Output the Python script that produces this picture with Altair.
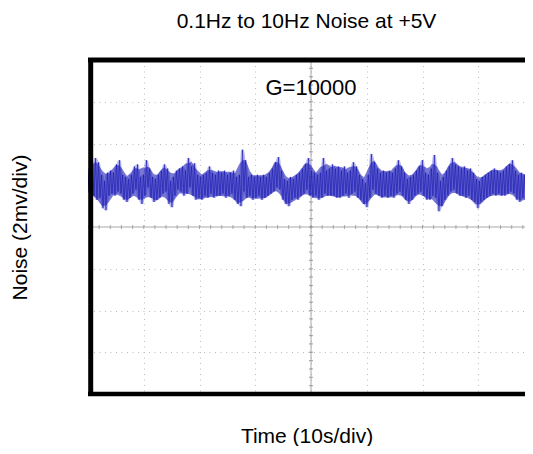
import altair as alt
import pandas as pd
import numpy as np

FONT = "Liberation Sans"

# Noise trace in mV, one sample every ~0.269 s
noise_mv = [
    2.0, 2.6, 1.6, 2.9, 1.5, 3.3, 1.3, 3.1, 1.4, 2.5, 0.9, 2.2, 0.8, 2.6, 1.5, 2.7, 1.6, 2.6, 1.5, 3.0, 1.7,
    3.2, 1.6, 2.5, 1.3, 2.4, 1.2, 2.3, 1.4, 2.5, 1.6, 2.9, 1.8, 3.0, 1.3, 2.4, 1.1, 2.5, 1.5, 3.2, 1.9,
    2.8, 1.4, 2.4, 1.2, 2.3, 1.3, 2.5, 1.4, 2.7, 1.6, 3.0, 1.7, 2.8, 1.1, 2.2, 0.95, 2.4, 1.5, 2.7, 1.8,
    2.8, 1.7, 2.9, 1.5, 2.7, 1.6, 3.3, 1.9, 2.9, 1.5, 3.05, 1.3, 2.5, 1.4, 2.4, 1.3, 2.5, 1.5, 2.6, 1.4,
    2.9, 1.6, 2.6, 1.4, 2.5, 1.5, 2.7, 1.5, 2.6, 1.6, 2.7, 1.4, 2.5, 1.5, 2.6, 1.6, 2.7, 1.3, 2.4, 1.1,
    2.5, 1.0, 3.7, 1.7, 3.2, 1.4, 2.4, 1.5, 2.5, 1.3, 2.4, 1.4, 2.5, 1.5, 2.4, 1.3, 2.5, 1.4, 2.4, 1.5,
    2.6, 1.6, 2.8, 1.7, 3.1, 1.9, 3.35, 1.8, 2.7, 1.3, 2.3, 1.1, 2.2, 1.0, 2.4, 1.3, 2.3, 1.4, 2.5, 1.3,
    2.6, 1.5, 2.8, 1.6, 3.0, 1.8, 3.3, 1.5, 2.7, 1.4, 2.6, 1.5, 2.5, 1.3, 2.6, 1.4, 3.3, 1.6, 2.7, 1.5,
    2.8, 1.5, 3.0, 1.5, 2.8, 1.4, 2.9, 1.4, 2.7, 1.5, 2.9, 1.6, 2.6, 1.4, 2.7, 1.6, 3.1, 1.7, 2.9, 1.4,
    2.5, 1.3, 2.3, 1.1, 2.1, 0.95, 2.5, 1.4, 3.5, 1.8, 3.1, 1.6, 2.8, 1.5, 2.6, 1.4, 2.7, 1.5, 2.6, 1.4,
    2.7, 1.5, 2.6, 1.4, 2.8, 1.6, 3.2, 1.7, 2.9, 1.5, 2.6, 1.3, 2.3, 1.1, 2.4, 1.3, 2.5, 1.5, 2.7, 1.6,
    2.9, 1.7, 3.2, 1.5, 2.6, 1.3, 2.5, 1.3, 2.8, 1.5, 3.45, 1.4, 2.6, 0.75, 2.2, 1.0, 2.4, 1.3, 2.7, 1.5,
    2.9, 1.7, 3.3, 1.8, 3.0, 1.6, 2.9, 1.5, 2.8, 1.5, 2.9, 1.4, 2.7, 1.5, 2.8, 1.3, 2.6, 1.2, 2.3, 0.9,
    2.2, 1.2, 2.4, 1.3, 2.5, 1.4, 2.6, 1.5, 2.7, 1.6, 2.8, 1.5, 2.7, 1.6, 2.6, 1.5, 2.7, 1.5, 2.9, 1.6,
    3.0, 1.7, 3.2, 1.6, 2.7, 1.3, 2.5, 1.2, 2.6, 1.4, 2.5, 1.3, 2.4, 1.4, 2.5, 1.5, 2.3,
]
SAMPLE_STEP_S = 0.269

# Scope graticule: 10 s/div, 2 mV/div
x_div_lines = [10, 20, 30, 40, 50, 60, 70]
y_div_lines = [-6, -4, -2, 2, 4, 6]
x_minor = [round(v, 2) for v in np.arange(0, 80.01, 2.0)]
y_minor = [round(v, 2) for v in np.arange(-8, 8.01, 0.4)]

title_text = "0.1Hz to 10Hz Noise at +5V"
x_title = "Time (10s/div)"
y_title = "Noise (2mv/div)"
gain_label = "G=10000"

W, H = 437, 334
X_MAX = W / 5.575  # 10 s per 55.75 px division

noise_df = pd.DataFrame({
    "t": [i * SAMPLE_STEP_S for i in range(len(noise_mv))],
    "mv": noise_mv,
})

xs = alt.Scale(domain=[0, X_MAX], nice=False, zero=False)
ys = alt.Scale(domain=[-8, 8], nice=False, zero=False)

grid_style = dict(grid=True, gridDash=[1, 4.5], gridColor="#bdbdbd", gridWidth=1,
                  labels=False, ticks=False, domain=False,
                  titleFont=FONT, titleFontSize=21, titleFontWeight="normal",
                  titleColor="#000000")

base = alt.Chart(noise_df)

windowed = base.transform_window(
    window=[alt.WindowFieldDef(op="min", field="mv", **{"as": "lo"}),
            alt.WindowFieldDef(op="max", field="mv", **{"as": "hi"})],
    frame=[-1, 1], sort=[alt.SortField("t")]
).transform_window(
    window=[alt.WindowFieldDef(op="mean", field="lo", **{"as": "clo"}),
            alt.WindowFieldDef(op="mean", field="hi", **{"as": "chi"})],
    frame=[-3, 3], sort=[alt.SortField("t")]
)

fringe = windowed.mark_area(clip=True, color="#4a4ae0", opacity=0.4).encode(
    x=alt.X("t:Q", scale=xs), y=alt.Y("lo:Q", scale=ys), y2="hi:Q")
core = windowed.mark_area(clip=True, color="#1e1eb4", opacity=0.6).encode(
    x=alt.X("t:Q", scale=xs), y=alt.Y("clo:Q", scale=ys), y2="chi:Q")

noise = base.mark_line(clip=True, color="#1a1ab0", strokeWidth=0.8, opacity=0.75).encode(
    x=alt.X("t:Q", scale=xs,
            axis=alt.Axis(values=x_div_lines, title=x_title, titlePadding=48,
                          titleBaseline="alphabetic", **grid_style)),
    y=alt.Y("mv:Q", scale=ys,
            axis=alt.Axis(values=y_div_lines, title=y_title, titlePadding=62,
                          titleBaseline="alphabetic", **grid_style)),
    order="t:Q",
)

hcenter = alt.Chart(pd.DataFrame({"a": [0]})).mark_rule(color="#a8a8a8", strokeWidth=1).encode(
    y=alt.datum(0, scale=ys), x=alt.datum(0, scale=xs), x2=alt.datum(X_MAX))
vcenter = alt.Chart(pd.DataFrame({"a": [0]})).mark_rule(color="#a8a8a8", strokeWidth=1).encode(
    x=alt.datum(40, scale=xs), y=alt.datum(-8, scale=ys), y2=alt.datum(8))

hticks = alt.Chart(pd.DataFrame({"t": x_minor})).mark_tick(
    orient="vertical", size=4, thickness=1, color="#8c8c8c", clip=True).encode(
    x=alt.X("t:Q", scale=xs), y=alt.datum(0, scale=ys))
vticks = alt.Chart(pd.DataFrame({"v": y_minor})).mark_tick(
    orient="horizontal", size=4, thickness=1.2, color="#8c8c8c").encode(
    y=alt.Y("v:Q", scale=ys), x=alt.datum(40, scale=xs))

frame_left = alt.Chart(pd.DataFrame({"a": [0]})).mark_rule(
    color="#000000", strokeWidth=5, xOffset=2.7).encode(
    x=alt.datum(0, scale=xs), y=alt.datum(-8, scale=ys), y2=alt.datum(8))
frame_top = alt.Chart(pd.DataFrame({"a": [0]})).mark_rule(
    color="#000000", strokeWidth=5).encode(
    y=alt.datum(8, scale=ys), x=alt.datum(0, scale=xs), x2=alt.datum(X_MAX))
frame_bottom = alt.Chart(pd.DataFrame({"a": [0]})).mark_rule(
    color="#000000", strokeWidth=4.5).encode(
    y=alt.datum(-8, scale=ys), x=alt.datum(0, scale=xs), x2=alt.datum(X_MAX))

gain = alt.Chart(pd.DataFrame({"t": [40.0], "v": [6.3], "label": [gain_label]})).mark_text(
    font=FONT, fontSize=22, color="#000000", align="center", baseline="alphabetic").encode(
    x=alt.X("t:Q", scale=xs), y=alt.Y("v:Q", scale=ys), text="label:N")

chart = alt.layer(
    hcenter, vcenter, hticks, vticks, fringe, core, noise,
    frame_left, frame_top, frame_bottom, gain
).properties(
    width=W, height=H,
    title=alt.TitleParams(title_text, font=FONT, fontSize=21, fontWeight="normal",
                          color="#000000", anchor="middle", frame="group",
                          offset=9, baseline="alphabetic"),
    autosize=alt.AutoSizeParams(type="none"),
    padding={"left": 80, "top": 52, "right": 0, "bottom": 52},
    background="#ffffff",
).configure_view(stroke=None)

chart.save("out.html", embed_options={"renderer": "svg", "actions": False})
